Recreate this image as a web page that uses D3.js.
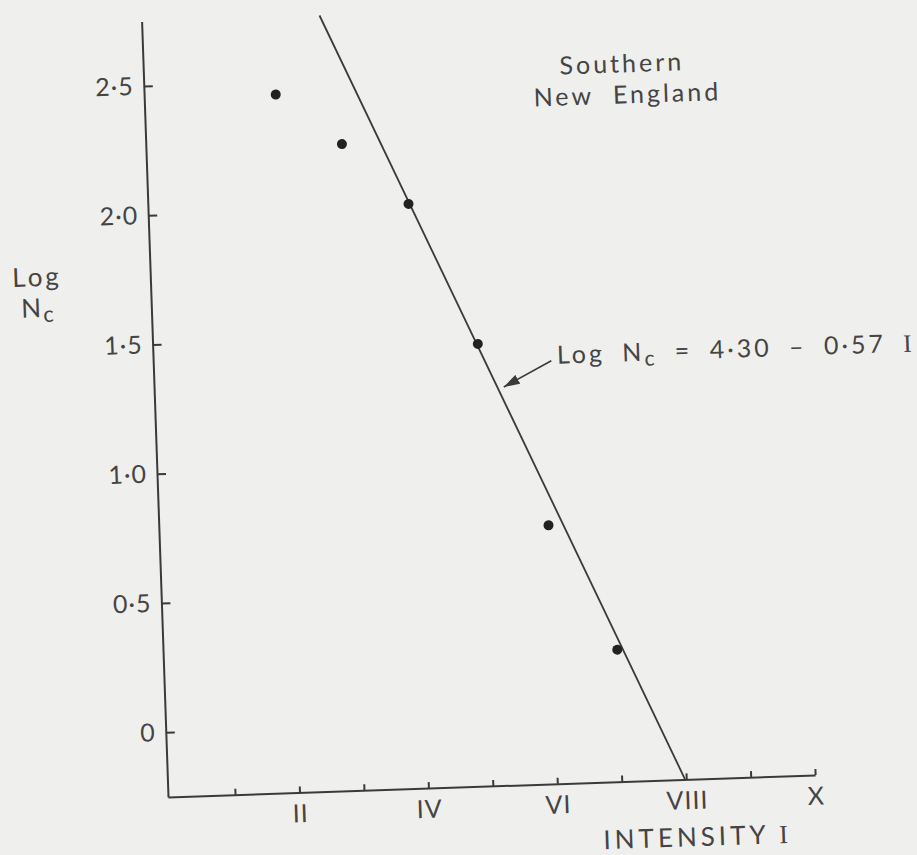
<html>
<head>
<script src="https://d3js.org/d3.v7.min.js"></script>
<style>
body { margin: 0; background: #efefed; }
svg { display: block; }
text { font-family: Lato, "Open Sans", sans-serif; fill: #444; }
</style>
</head>
<body>
<div id="chart"></div>
<script>
// observed points, southern New England
var intensity = [2, 3, 4, 5, 6, 7];
var logNc = [2.45, 2.25, 2.01, 1.46, 0.75, 0.26];

// fitted line Log Nc = 4.30 - 0.57 I, drawn between these intensities
var fitIntercept = 4.30;
var fitSlope = -0.57;
var fitRange = [2.72, 7.98];

var xTicks = [1, 2, 3, 4, 5, 6, 7, 8, 9, 10];
var xTickLabels = ["", "II", "", "IV", "", "VI", "", "VIII", "", "X"];
var yTicks = [0, 0.5, 1, 1.5, 2, 2.5];
var yTickLabels = ["0", "0·5", "1·0", "1·5", "2·0", "2·5"];

var width = 917, height = 855;
var ink = "#3a3a3a";
var textInk = "#444";

var svg = d3.select("#chart").append("svg")
	.attr("width", width)
	.attr("height", height);

svg.append("rect")
	.attr("width", width)
	.attr("height", height)
	.attr("fill", "#efefed");

// the scanned figure is tilted a little, so turn the whole plot about its origin
var plot = svg.append("g")
	.attr("transform", "translate(168,797) rotate(-1.95)");

var x = d3.scaleLinear().domain([-0.04, 10]).range([0, 647.5]);
var y = d3.scaleLinear().domain([-0.25, 2.75]).range([0, -776]);

var xAxis = d3.axisBottom(x)
	.tickValues(xTicks)
	.tickSizeInner(-6)
	.tickSizeOuter(0)
	.tickPadding(12)
	.tickFormat(function(d, i) { return xTickLabels[i]; });

var yAxis = d3.axisLeft(y)
	.tickValues(yTicks)
	.tickSizeInner(-9)
	.tickSizeOuter(0)
	.tickPadding(10)
	.tickFormat(function(d, i) { return yTickLabels[i]; });

var gx = plot.append("g").call(xAxis);
var gy = plot.append("g").call(yAxis);

[gx, gy].forEach(function(g) {
	g.style("color", ink)
		.attr("font-family", "Lato, 'Open Sans', sans-serif")
		.attr("font-size", 25);
	g.selectAll("path, line").attr("stroke-width", 2);
	g.selectAll("text").style("fill", textInk).attr("letter-spacing", 1);
});

// fitted line
plot.append("line")
	.attr("x1", x(fitRange[0]))
	.attr("y1", y(fitIntercept + fitSlope * fitRange[0]))
	.attr("x2", x(fitRange[1]))
	.attr("y2", y(fitIntercept + fitSlope * fitRange[1]))
	.attr("stroke", ink)
	.attr("stroke-width", 1.8);

// data points
plot.selectAll(".pt")
	.data(intensity)
	.enter().append("circle")
	.attr("class", "pt")
	.attr("cx", function(d) { return x(d); })
	.attr("cy", function(d, i) { return y(logNc[i]); })
	.attr("r", 5)
	.attr("fill", "#222");

// arrow pointing at the line
svg.append("defs").append("marker")
	.attr("id", "head")
	.attr("markerUnits", "userSpaceOnUse")
	.attr("markerWidth", 18)
	.attr("markerHeight", 10)
	.attr("refX", 16)
	.attr("refY", 5)
	.attr("orient", "auto")
	.append("path")
	.attr("d", "M0,0 L16,5 L0,10 Z")
	.attr("fill", ink);

plot.append("line")
	.attr("x1", x(6.13))
	.attr("y1", y(1.385))
	.attr("x2", x(5.38))
	.attr("y2", y(1.29))
	.attr("stroke", ink)
	.attr("stroke-width", 1.6)
	.attr("marker-end", "url(#head)");

var eq = plot.append("text")
	.attr("x", x(6.22))
	.attr("y", y(1.373))
	.attr("font-size", 25)
	.attr("letter-spacing", 3)
	.attr("word-spacing", 8);
eq.append("tspan").text("Log N");
eq.append("tspan").attr("dy", 5).attr("font-size", 21).text("c");
eq.append("tspan").attr("dy", -5).text(" = 4·30 – 0·57 ");
eq.append("tspan").attr("font-family", "'Liberation Serif', serif").text("I");

// region name
plot.append("text")
	.attr("x", x(7.38))
	.attr("y", y(2.49))
	.attr("text-anchor", "middle")
	.attr("font-size", 25)
	.attr("letter-spacing", 3)
	.text("Southern");
plot.append("text")
	.attr("x", x(7.45))
	.attr("y", y(2.37))
	.attr("text-anchor", "middle")
	.attr("font-size", 25)
	.attr("letter-spacing", 3)
	.attr("word-spacing", 10)
	.text("New England");

// axis titles
plot.append("text")
	.attr("x", -138)
	.attr("y", -515)
	.attr("font-size", 26)
	.attr("letter-spacing", 3)
	.text("Log");
var nc = plot.append("text")
	.attr("x", -130)
	.attr("y", -484)
	.attr("font-size", 26)
	.attr("letter-spacing", 2);
nc.append("tspan").text("N");
nc.append("tspan").attr("dy", 5).attr("font-size", 22).text("c");

var xt = plot.append("text")
	.attr("x", 528)
	.attr("y", 67)
	.attr("text-anchor", "middle")
	.attr("font-size", 26)
	.attr("letter-spacing", 4);
xt.append("tspan").text("INTENSITY ");
xt.append("tspan").attr("font-family", "'Liberation Serif', serif").text("I");
</script>
</body>
</html>
